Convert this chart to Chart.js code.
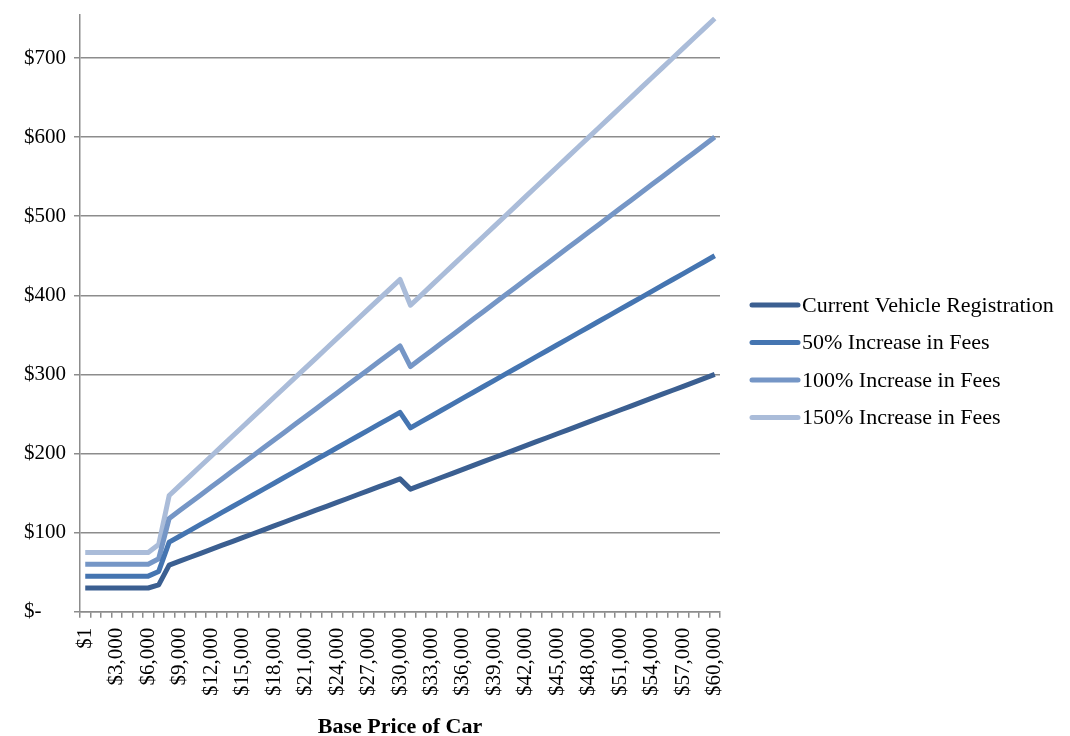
<!DOCTYPE html>
<html>
<head>
<meta charset="utf-8">
<title>Vehicle Registration Fees by Base Price of Car</title>
<script src="https://cdn.jsdelivr.net/npm/chart.js@4"></script>
<style>
  html, body { margin: 0; padding: 0; background: #ffffff; }
  #chart { display: block; }
</style>
</head>
<body>
<canvas id="chart" width="1070" height="736"></canvas>
<script>
// Base price of the car, $1 then every $1,000 up to $60,000
const prices = ['$1'];
for (let p = 1000; p <= 60000; p += 1000) {
  prices.push('$' + p.toLocaleString('en-US'));
}

// Annual fee ($) at each base price
const currentFees = [
  30, 30, 30, 30, 30, 30, 30, 34,
  59, 64.0, 68.9, 73.9, 78.8, 83.8, 88.7, 93.7, 98.6, 103.6, 108.5, 113.5, 118.5, 123.4, 128.4, 133.3,
  138.3, 143.2, 148.2, 153.1, 158.1, 163.0, 168,
  155, 160, 165, 170, 175, 180, 185, 190, 195, 200, 205, 210, 215, 220, 225, 230, 235, 240, 245, 250,
  255, 260, 265, 270, 275, 280, 285, 290, 295, 300
];
const fees50 = [
  45, 45, 45, 45, 45, 45, 45, 51,
  88, 95.5, 102.9, 110.4, 117.8, 125.3, 132.7, 140.2, 147.6, 155.1, 162.5, 170.0, 177.5, 184.9, 192.4, 199.8,
  207.3, 214.7, 222.2, 229.6, 237.1, 244.5, 252,
  232.5, 240, 247.5, 255, 262.5, 270, 277.5, 285, 292.5, 300, 307.5, 315, 322.5, 330, 337.5, 345, 352.5, 360,
  367.5, 375, 382.5, 390, 397.5, 405, 412.5, 420, 427.5, 435, 442.5, 450
];
const fees100 = [
  60, 60, 60, 60, 60, 60, 60, 67,
  118, 127.9, 137.8, 147.7, 157.6, 167.5, 177.5, 187.4, 197.3, 207.2, 217.1, 227.0, 236.9, 246.8, 256.7, 266.6,
  276.5, 286.5, 296.4, 306.3, 316.2, 326.1, 336,
  310, 320, 330, 340, 350, 360, 370, 380, 390, 400, 410, 420, 430, 440, 450, 460, 470, 480, 490, 500,
  510, 520, 530, 540, 550, 560, 570, 580, 590, 600
];
const fees150 = [
  75, 75, 75, 75, 75, 75, 75, 85,
  147, 159.4, 171.8, 184.2, 196.6, 209.0, 221.5, 233.9, 246.3, 258.7, 271.1, 283.5, 295.9, 308.3, 320.7, 333.1,
  345.5, 357.9, 370.4, 382.8, 395.2, 407.6, 420,
  387.5, 400, 412.5, 425, 437.5, 450, 462.5, 475, 487.5, 500, 512.5, 525, 537.5, 550, 562.5, 575, 587.5, 600,
  612.5, 625, 637.5, 650, 662.5, 675, 687.5, 700, 712.5, 725, 737.5, 750
];

const seriesNames = [
  'Current Vehicle Registration',
  '50% Increase in Fees',
  '100% Increase in Fees',
  '150% Increase in Fees'
];
const seriesColors = ['#3b5f91', '#4575b1', '#7596c6', '#aabcd9'];

const FONT = '"Liberation Serif", "Times New Roman", serif';
const GRID = '#8c8c8c';

// Legend drawn to the right of the plot, one row per series
const sideLegend = {
  id: 'sideLegend',
  afterDraw(chart) {
    const ctx = chart.ctx;
    const x0 = 752, lineLen = 46, rowGap = 37.5, y0 = 305;
    ctx.save();
    ctx.font = '22px ' + FONT;
    ctx.textBaseline = 'middle';
    ctx.textAlign = 'left';
    chart.data.datasets.forEach((ds, i) => {
      const y = y0 + i * rowGap;
      ctx.strokeStyle = ds.borderColor;
      ctx.lineWidth = 5;
      ctx.lineCap = 'round';
      ctx.beginPath();
      ctx.moveTo(x0, y);
      ctx.lineTo(x0 + lineLen, y);
      ctx.stroke();
      ctx.fillStyle = '#000000';
      ctx.fillText(ds.label, x0 + lineLen + 4, y + 1);
    });
    ctx.restore();
  }
};

const allSeries = [currentFees, fees50, fees100, fees150];

new Chart(document.getElementById('chart'), {
  type: 'line',
  data: {
    labels: prices,
    datasets: allSeries.map((vals, i) => ({
      label: seriesNames[i],
      data: vals,
      borderColor: seriesColors[i],
      backgroundColor: seriesColors[i],
      borderWidth: 5,
      pointRadius: 0,
      pointHoverRadius: 0,
      tension: 0,
      fill: false,
      borderJoinStyle: 'round',
      borderCapStyle: 'butt'
    }))
  },
  options: {
    responsive: false,
    devicePixelRatio: 1,
    animation: false,
    layout: { padding: { left: 24, top: 0, right: 350, bottom: 0 } },
    plugins: {
      legend: { display: false },
      tooltip: { enabled: false }
    },
    scales: {
      x: {
        type: 'category',
        offset: true,
        grid: {
          offset: true,
          drawOnChartArea: false,
          drawTicks: true,
          tickLength: 6,
          color: GRID,
          lineWidth: 1.5
        },
        border: { display: true, color: GRID, width: 1.5 },
        ticks: {
          autoSkip: false,
          maxRotation: 90,
          minRotation: 90,
          padding: 10,
          color: '#000000',
          font: { family: FONT, size: 21 },
          callback: function (value, index) {
            return index % 3 === 0 ? this.getLabelForValue(value) : '';
          }
        },
        title: {
          display: true,
          text: 'Base Price of Car',
          color: '#000000',
          font: { family: FONT, size: 22, weight: 'bold', lineHeight: 1 },
          padding: { top: 10, bottom: -2 }
        }
      },
      y: {
        min: 0,
        max: 755,
        afterBuildTicks(scale) {
          scale.ticks = scale.ticks.filter(t => t.value % 100 === 0);
        },
        grid: {
          color: GRID,
          lineWidth: 1.5,
          drawTicks: true,
          tickLength: 6
        },
        border: { display: true, color: GRID, width: 1.5 },
        ticks: {
          stepSize: 100,
          crossAlign: 'far',
          padding: 4,
          color: '#000000',
          font: { family: FONT, size: 21, lineHeight: 1 },
          callback: v => (v === 0 ? '$-' : '$' + v)
        }
      }
    }
  },
  plugins: [sideLegend]
});
</script>
</body>
</html>
